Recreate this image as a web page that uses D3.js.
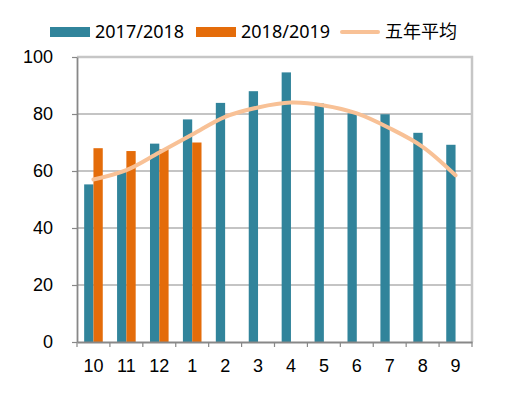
<!DOCTYPE html>
<html>
<head>
<meta charset="utf-8">
<script src="https://cdn.jsdelivr.net/npm/d3@7"></script>
<style>
  body { margin: 0; background: #fff; }
  svg { display: block; font-family: "Noto Sans", "Noto Sans CJK SC", sans-serif; }
</style>
</head>
<body>
<div class="chart"></div>
<script>
// 数据
const months = ['10', '11', '12', '1', '2', '3', '4', '5', '6', '7', '8', '9']
const season1718 = [55.3, 60, 69.6, 78.1, 83.9, 88, 94.6, 83.7, 80.2, 79.9, 73.4, 69.2]
const season1819 = [68, 67, 67.6, 70]
const fiveYearAvg = [57, 60.3, 66.5, 72.8, 79, 82.3, 84, 83, 80.2, 75, 68.5, 58.5]
const yTicks = [0, 20, 40, 60, 80, 100]

const width = 519
const height = 395
const margin = { top: 57, right: 47, bottom: 53, left: 77 }

const svg = d3.select('.chart').append('svg')
  .attr('width', width)
  .attr('height', height)

const x = d3.scaleBand().domain(months).range([margin.left, width - margin.right])
const y = d3.scaleLinear().domain([0, 100]).range([height - margin.bottom, margin.top])
const barW = 9.3

// 网格线
svg.append('g')
  .selectAll('line')
  .data(yTicks.filter(d => d > 0 && d < 100))
  .join('line')
  .attr('x1', margin.left)
  .attr('x2', width - margin.right)
  .attr('y1', d => y(d))
  .attr('y2', d => y(d))
  .attr('stroke', '#8a8a8a')
  .attr('stroke-width', 1.2)

// 上边框和右边框
svg.append('path')
  .attr('d', `M${margin.left},${y(100)} H${width - margin.right} V${y(0)}`)
  .attr('fill', 'none')
  .attr('stroke', '#c6c6c6')
  .attr('stroke-width', 2.5)

// 柱子
svg.append('g')
  .selectAll('rect')
  .data(season1718)
  .join('rect')
  .attr('x', (d, i) => x(months[i]) + x.bandwidth() / 2 - barW)
  .attr('width', barW)
  .attr('y', d => y(d))
  .attr('height', d => y(0) - y(d))
  .attr('fill', '#31849b')

svg.append('g')
  .selectAll('rect')
  .data(season1819)
  .join('rect')
  .attr('x', (d, i) => x(months[i]) + x.bandwidth() / 2)
  .attr('width', barW)
  .attr('y', d => y(d))
  .attr('height', d => y(0) - y(d))
  .attr('fill', '#e46c0a')

// 五年平均线
const line = d3.line()
  .x((d, i) => x(months[i]) + x.bandwidth() / 2)
  .y(d => y(d))
  .curve(d3.curveCatmullRom)

svg.append('path')
  .datum(fiveYearAvg)
  .attr('d', line)
  .attr('fill', 'none')
  .attr('stroke', '#f8c196')
  .attr('stroke-width', 4)
  .attr('stroke-linecap', 'round')

// 坐标轴
const yAxis = svg.append('g')
  .attr('transform', `translate(${margin.left},0)`)
  .call(d3.axisLeft(y).tickValues(yTicks).tickSize(5).tickPadding(19).tickSizeOuter(0))
yAxis.select('.domain').attr('stroke', '#888').attr('stroke-width', 1.8)
yAxis.selectAll('.tick line').attr('stroke', '#888').attr('stroke-width', 1.2)
yAxis.selectAll('text').attr('font-size', 18).attr('fill', '#000')

const xAxis = svg.append('g')
  .attr('transform', `translate(0,${y(0)})`)
  .call(d3.axisBottom(x).tickSize(0).tickPadding(17))
xAxis.select('.domain').attr('stroke', '#888').attr('stroke-width', 1.8)
xAxis.selectAll('text').attr('font-size', 18).attr('fill', '#000')

// x 轴刻度在类别边界上
svg.append('g')
  .selectAll('line')
  .data(months.concat(['end']))
  .join('line')
  .attr('x1', (d, i) => margin.left + i * x.bandwidth())
  .attr('x2', (d, i) => margin.left + i * x.bandwidth())
  .attr('y1', y(0))
  .attr('y2', y(0) + 5)
  .attr('stroke', '#888')
  .attr('stroke-width', 1.2)

// 图例
const legendItems = [
  { name: '2017/2018', color: '#31849b', type: 'rect', x: 50 },
  { name: '2018/2019', color: '#e46c0a', type: 'rect', x: 196 },
  { name: '五年平均', color: '#f8c196', type: 'line', x: 340 }
]
const legend = svg.append('g')
  .selectAll('g')
  .data(legendItems)
  .join('g')
  .attr('transform', d => `translate(${d.x},32)`)

legend.filter(d => d.type === 'rect').append('rect')
  .attr('x', 0).attr('y', -5).attr('width', 40).attr('height', 10)
  .attr('fill', d => d.color)
legend.filter(d => d.type === 'line').append('line')
  .attr('x1', 2).attr('x2', 38).attr('y1', 0).attr('y2', 0)
  .attr('stroke', d => d.color).attr('stroke-width', 4).attr('stroke-linecap', 'round')
legend.append('text')
  .attr('x', 45)
  .attr('dy', '0.35em')
  .attr('font-size', 18)
  .attr('fill', '#000')
  .text(d => d.name)
</script>
</body>
</html>
